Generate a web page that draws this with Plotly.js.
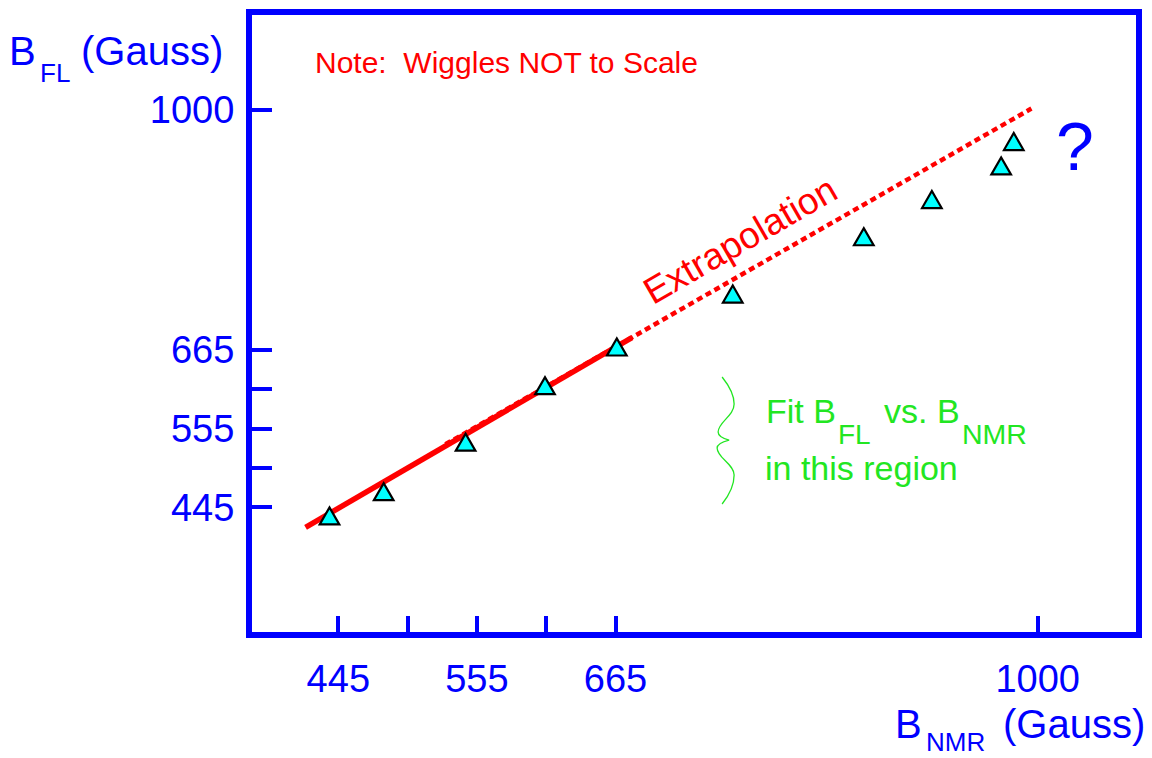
<!DOCTYPE html>
<html><head><meta charset="utf-8">
<script src="https://cdn.plot.ly/plotly-3.0.1.min.js"></script>
<style>html,body{margin:0;padding:0;background:#fff}#chart{width:1152px;height:758px}</style>
</head><body><div id="chart"></div>
<script>
// ---- data ----
const bNMR = [438, 481, 546, 609, 666, 758, 862, 916, 971, 981];
const bFL  = [429, 463, 532, 611, 665, 739, 819, 871, 918, 952];
const fitX = [419, 678];
const fitY = [417, 682];
const extrapX = [530, 995];
const extrapY = [533, 1002];
const xTickVals = [445, 500, 555, 610, 665, 1000];
const xTickText = ['445', '', '555', '', '665', '1000'];
const yTickVals = [445, 500, 555, 610, 665, 1000];
const yTickText = ['445', '', '555', '', '665', '1000'];

const FONT = 'Liberation Sans, Arial, Helvetica, sans-serif';
const BLUE = '#0000ff', RED = '#ff0000', GREEN = '#22e622';
const L = 252, T = 15, W = 884, H = 617;

function txt(text, ox, baseline, size, color, tight) {
  const pad = tight ? 0 : 2;
  const a = {xref: 'paper', yref: 'paper', x: (ox - pad - L) / W,
    y: (T + H - (baseline - 0.3465 * size)) / H,
    xanchor: 'left', yanchor: 'middle', text: text, showarrow: false,
    font: {family: FONT, size: size, color: color}};
  if (tight) { a.borderpad = 0; a.borderwidth = 0; }
  return a;
}

const traces = [
  {x: fitX, y: fitY, mode: 'lines', line: {color: RED, width: 5.5}, hoverinfo: 'skip', showlegend: false},
  {x: extrapX, y: extrapY, mode: 'lines', line: {color: RED, width: 4.5, dash: '6px,4px'}, hoverinfo: 'skip', showlegend: false}
];

// equilateral triangle markers, pixel-sized, anchored at each data point
const triPath = 'M -9.8 -5.7 L 9.8 -5.7 L 0 11.3 Z';
const shapes = bNMR.map((xv, i) => ({
  type: 'path', xref: 'x', yref: 'y', xsizemode: 'pixel', ysizemode: 'pixel',
  xanchor: xv, yanchor: bFL[i], path: triPath,
  fillcolor: '#00ffff', line: {color: '#000000', width: 2.2}, layer: 'above'
}));
// wiggly brace
shapes.push({
  type: 'path', xref: 'x', yref: 'y', xsizemode: 'pixel', ysizemode: 'pixel',
  xanchor: 745.6, yanchor: 539,
  path: 'M 5 63 C 13 53, 17 45, 17 36 C 17 24, 1 18, 1 8 C 1 3, 8 1, 12 0 C 8 -1, 0 -3, 0 -8 C 0 -18, 17 -24, 17 -35 C 17 -45, 13 -54, 5 -64',
  line: {color: GREEN, width: 1.3}, layer: 'above'
});

const annotations = [
  // y title
  txt('B', 8.8, 65, 40, BLUE),
  txt('FL', 39.6, 81.7, 26, BLUE),
  txt('(Gauss)', 80.6, 65, 40, BLUE),
  // x title
  txt('B', 895, 738.3, 40, BLUE),
  txt('NMR', 926, 751, 26, BLUE, true),
  txt('(Gauss)', 1002.6, 738.3, 40, BLUE),
  // note
  txt('Note:\u00a0\u00a0Wiggles NOT to Scale', 314.5, 72.7, 30, RED),
  // fit text
  txt('Fit B', 765.5, 422.7, 34, GREEN),
  txt('FL', 838, 444, 28, GREEN),
  txt('vs. B', 884, 422.7, 34, GREEN),
  txt('NMR', 962, 444, 28.5, GREEN),
  txt('in this region', 765, 479.3, 34, GREEN),
  // extrapolation label
  {xref: 'paper', yref: 'paper', x: (740 - L) / W, y: (T + H - 240) / H, xanchor: 'center', yanchor: 'middle',
   text: 'Extrapolation', textangle: -30, showarrow: false, font: {family: FONT, size: 37, color: RED}},
  // question mark
  {xref: 'paper', yref: 'paper', x: (1075 - L) / W, y: (T + H - 146) / H, xanchor: 'center', yanchor: 'middle',
   text: '?', showarrow: false, font: {family: FONT, size: 68, color: BLUE}}
];

const axisCommon = {
  showgrid: false, zeroline: false, showline: true, mirror: true,
  linecolor: BLUE, linewidth: 6, ticks: 'inside', tickcolor: BLUE, tickwidth: 4,
  tickmode: 'array', tickfont: {family: FONT, size: 38, color: BLUE}, fixedrange: true
};

const layout = {
  width: 1152, height: 758,
  margin: {l: L, r: 1152 - L - W, t: T, b: 758 - T - H, pad: 0},
  paper_bgcolor: '#ffffff', plot_bgcolor: '#ffffff',
  showlegend: false,
  xaxis: Object.assign({}, axisCommon, {range: [376.5, 1078], tickvals: xTickVals, ticktext: xTickText, ticklen: 16, ticklabelstandoff: 8}),
  yaxis: Object.assign({}, axisCommon, {range: [270.8, 1132.7], tickvals: yTickVals, ticktext: yTickText, ticklen: 20, ticklabelstandoff: 4}),
  shapes: shapes,
  annotations: annotations
};

Plotly.newPlot('chart', traces, layout, {displayModeBar: false, staticPlot: true});
</script>
</body></html>
